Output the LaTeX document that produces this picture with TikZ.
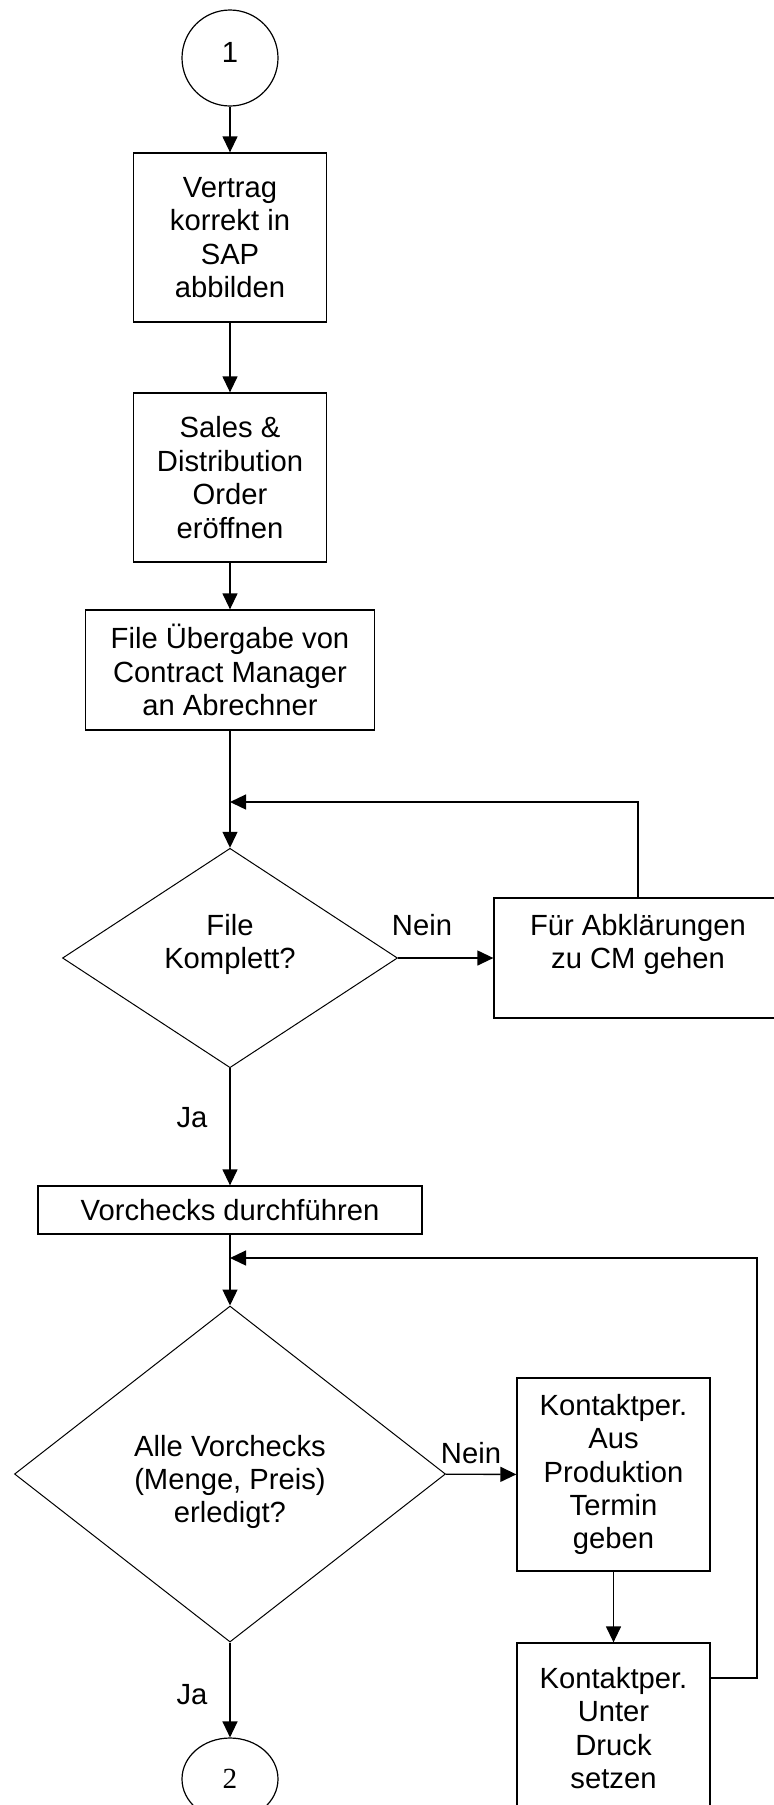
\documentclass[tikz,border=0pt]{standalone}
\usepackage{fontspec}
\setmainfont{Liberation Sans}
\newfontfamily\numserif{Liberation Serif}
\usetikzlibrary{shapes.geometric,arrows.meta}

\begin{document}
\begin{tikzpicture}[
    x=0.5pt,
    y=-0.5pt,
    every node/.style={font=\fontsize{14.6}{16.7}\selectfont},
    process/.style={draw=black,line width=0.65pt,rectangle,align=center,inner sep=0pt},
    decision/.style={draw=black,line width=0.5pt,diamond,align=center,inner sep=0pt},
    connector/.style={draw=black,line width=0.6pt,ellipse,inner sep=0pt},
    flow/.style={-{Triangle[length=8pt,width=7.5pt]},line width=0.65pt},
    answer/.style={inner sep=0pt}
]

% Page frame.
\useasboundingbox (0,0) rectangle (774,1805);
\clip (0,0) rectangle (774,1805);

% Main column.
\node[connector,minimum width=48pt,minimum height=48pt] (start) at (230,58) {\raisebox{6pt}{1}};
\node[process,minimum width=96.5pt,minimum height=84.5pt] (box1) at (230,237.5)
    {Vertrag\\korrekt in\\SAP\\abbilden};
\node[process,minimum width=96.5pt,minimum height=84.5pt] (box2) at (230,477.5)
    {Sales \&\\Distribution\\Order\\eröffnen};
\node[process,minimum width=144.5pt,minimum height=60pt] (box3) at (230,670)
    {File Übergabe von\\Contract Manager\\an Abrechner};
\node[decision,minimum width=167.5pt,minimum height=108pt] (check1) at (230,958)
    {File\\Komplett?\\\mbox{}};
\node[process,minimum width=192pt,minimum height=24pt] (box5) at (230,1210)
    {Vorchecks durchführen};
\node[decision,minimum width=215.5pt,minimum height=168pt] (check2) at (230,1474)
    {\rule{0pt}{18.6pt}Alle Vorchecks\\(Menge, Preis)\\erledigt?};
\node[connector,minimum width=48pt,minimum height=41pt] (stop) at (230,1779) {\numserif 2};

% Side branches.
\node[process,minimum width=144pt,minimum height=60pt] (box4) at (638,958)
    {Für Abklärungen\\zu CM gehen\\\mbox{}};
\node[process,minimum width=96.5pt,minimum height=96.5pt] (box6) at (613.5,1474.5)
    {Kontaktper.\\Aus\\Produktion\\Termin\\geben};
\node[process,minimum width=96.5pt,minimum height=85pt] (box7) at (613.5,1728)
    {Kontaktper.\\Unter\\Druck\\setzen};

% Answer labels.
\node[answer] (nein1) at (422,925) {Nein};
\node[answer] (ja1) at (192,1118) {Ja};
\node[answer] (nein2) at (471,1453) {Nein};
\node[answer] (ja2) at (192,1695) {Ja};

% Loop joins.
\coordinate (join1) at (230,802);
\coordinate (join2) at (230,1258);
\coordinate (loop2) at (757,1678);

% Connectors.
\draw[flow] (start) -- (box1);
\draw[flow] (box1) -- (box2);
\draw[flow] (box2) -- (box3);
\draw[flow] (box3) -- (check1);
\draw[flow] (check1) -- (box4);
\draw[flow] (box4.north) |- (join1);
\draw[flow] (check1) -- (box5);
\draw[flow] (box5) -- (check2);
\draw[flow] (check2) -- (box6);
\draw[flow] (box6) -- (box7);
\draw[flow] (box7.east |- loop2) -- (loop2) |- (join2);
\draw[flow] (check2) -- (stop);

\end{tikzpicture}
\end{document}
